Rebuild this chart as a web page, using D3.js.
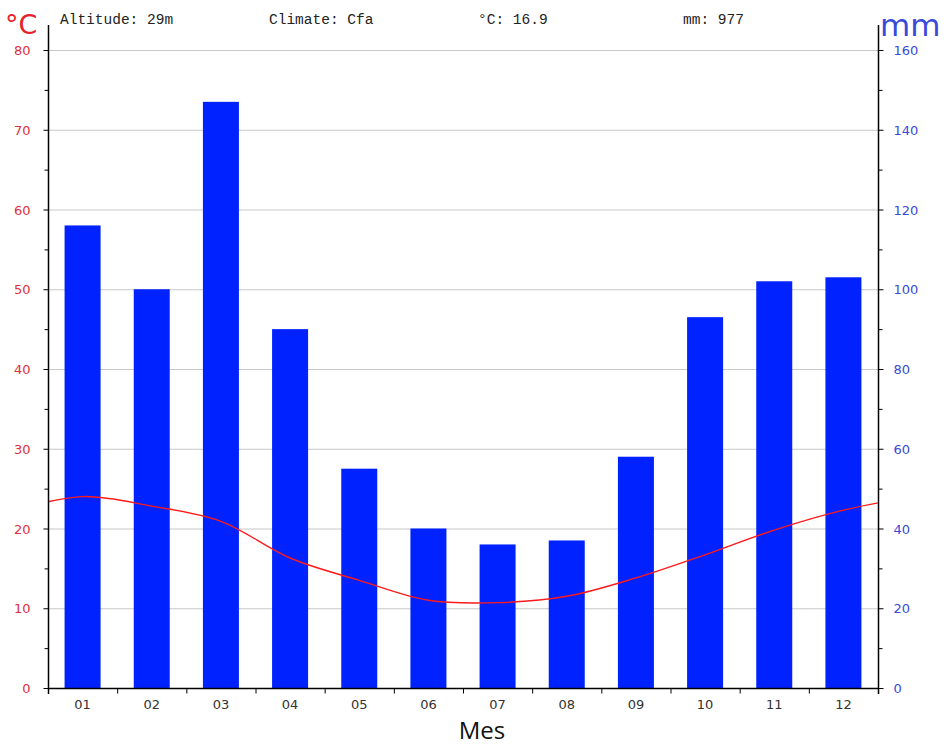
<!DOCTYPE html>
<html>
<head>
<meta charset="utf-8">
<script src="https://cdn.jsdelivr.net/npm/d3@7"></script>
<style>
  body { margin: 0; background: #fff; }
  svg { display: block; }
</style>
</head>
<body>
<svg id="chart" width="949" height="747"></svg>
<script>
// climate data
const months = ['01', '02', '03', '04', '05', '06', '07', '08', '09', '10', '11', '12'];
const precip = [116, 100, 147, 90, 55, 40, 36, 37, 58, 93, 102, 103];
const temp = [24.0, 22.8, 20.9, 16.3, 13.5, 11.0, 10.7, 11.5, 13.8, 16.7, 19.8, 22.3];
const tempTicks = [0, 10, 20, 30, 40, 50, 60, 70, 80];
const precipTicks = [0, 20, 40, 60, 80, 100, 120, 140, 160];
const header = ['Altitude: 29m', 'Climate: Cfa', '°C: 16.9', 'mm: 977'];

const margin = { top: 50, right: 71, bottom: 59, left: 48 };
const width = 949, height = 747;

const svg = d3.select('#chart');

const band = d3.scaleBand().domain(months).range([margin.left, width - margin.right]);
const bw = band.bandwidth();

const yT = d3.scaleLinear().domain([0, 80]).range([height - margin.bottom, margin.top]);
const yP = d3.scaleLinear().domain([0, 160]).range([height - margin.bottom, margin.top]);

// gridlines
svg.append('g')
  .selectAll('line')
  .data(tempTicks.filter(d => d > 0))
  .enter()
  .append('line')
  .attr('x1', margin.left)
  .attr('x2', width - margin.right)
  .attr('y1', d => yT(d) + 0.5)
  .attr('y2', d => yT(d) + 0.5)
  .attr('stroke', '#c8c8c8')
  .attr('stroke-width', 1);

// bars
svg.append('g')
  .selectAll('rect')
  .data(precip)
  .enter()
  .append('rect')
  .attr('x', (d, i) => band(months[i]) + bw / 2 - 18)
  .attr('width', 36)
  .attr('y', d => yP(d))
  .attr('height', d => yP(0) - yP(d))
  .attr('fill', '#0022ff');

// temperature line, wrapped around the year and clipped to the plot
svg.append('clipPath')
  .attr('id', 'clip')
  .append('rect')
  .attr('x', margin.left)
  .attr('y', margin.top)
  .attr('width', width - margin.left - margin.right)
  .attr('height', height - margin.top - margin.bottom);

const center = i => band(months[0]) + bw / 2 + i * bw;
const wrapped = [[-1, temp[11]]]
  .concat(temp.map((t, i) => [i, t]))
  .concat([[12, temp[0]]]);

svg.append('path')
  .datum(wrapped)
  .attr('clip-path', 'url(#clip)')
  .attr('d', d3.line()
    .x(d => center(d[0]))
    .y(d => yT(d[1]))
    .curve(d3.curveCatmullRom.alpha(0.5)))
  .attr('fill', 'none')
  .attr('stroke', '#ff1a1a')
  .attr('stroke-width', 1.4);

// left axis (°C)
const leftAxis = svg.append('g')
  .attr('transform', 'translate(' + (margin.left + 0.5) + ',0)');
leftAxis.append('line')
  .attr('y1', 25).attr('y2', yT(0) + 6)
  .attr('stroke', '#000').attr('stroke-width', 1.5);
leftAxis.selectAll('.major')
  .data(tempTicks)
  .enter()
  .append('line')
  .attr('x1', -5).attr('x2', 0)
  .attr('y1', d => yT(d) + 0.5).attr('y2', d => yT(d) + 0.5)
  .attr('stroke', '#000');
leftAxis.selectAll('.minor')
  .data(tempTicks.slice(0, -1).map(d => d + 5))
  .enter()
  .append('line')
  .attr('x1', -4).attr('x2', 0)
  .attr('y1', d => yT(d) + 0.5).attr('y2', d => yT(d) + 0.5)
  .attr('stroke', '#000');
leftAxis.selectAll('text')
  .data(tempTicks)
  .enter()
  .append('text')
  .attr('x', -18)
  .attr('y', d => yT(d) + 5)
  .attr('text-anchor', 'end')
  .attr('fill', '#e0303a')
  .style('font-family', 'DejaVu Sans, sans-serif')
  .style('font-size', '13px')
  .text(d => d);

// right axis (mm)
const rightAxis = svg.append('g')
  .attr('transform', 'translate(' + (width - margin.right + 0.5) + ',0)');
rightAxis.append('line')
  .attr('y1', 25).attr('y2', yP(0) + 6)
  .attr('stroke', '#000').attr('stroke-width', 1.5);
rightAxis.selectAll('.major')
  .data(precipTicks)
  .enter()
  .append('line')
  .attr('x1', 0).attr('x2', 5)
  .attr('y1', d => yP(d) + 0.5).attr('y2', d => yP(d) + 0.5)
  .attr('stroke', '#000');
rightAxis.selectAll('.minor')
  .data(precipTicks.slice(0, -1).map(d => d + 10))
  .enter()
  .append('line')
  .attr('x1', 0).attr('x2', 4)
  .attr('y1', d => yP(d) + 0.5).attr('y2', d => yP(d) + 0.5)
  .attr('stroke', '#000');
rightAxis.selectAll('text')
  .data(precipTicks)
  .enter()
  .append('text')
  .attr('x', 15)
  .attr('y', d => yP(d) + 5)
  .attr('text-anchor', 'start')
  .attr('fill', '#3a4ad8')
  .style('font-family', 'DejaVu Sans, sans-serif')
  .style('font-size', '13px')
  .text(d => d);

// bottom axis
const xAxis = svg.append('g')
  .attr('transform', 'translate(0,' + (yT(0) + 0.5) + ')');
xAxis.append('line')
  .attr('x1', margin.left).attr('x2', width - margin.right)
  .attr('stroke', '#000').attr('stroke-width', 1.5);
xAxis.selectAll('.tick')
  .data(months.concat(['end']))
  .enter()
  .append('line')
  .attr('x1', (d, i) => margin.left + i * bw + 0.5)
  .attr('x2', (d, i) => margin.left + i * bw + 0.5)
  .attr('y1', 0).attr('y2', 5)
  .attr('stroke', '#000');
xAxis.selectAll('text')
  .data(months)
  .enter()
  .append('text')
  .attr('x', d => band(d) + bw / 2)
  .attr('y', 20)
  .attr('text-anchor', 'middle')
  .attr('fill', '#333')
  .style('font-family', 'DejaVu Sans, sans-serif')
  .style('font-size', '13px')
  .text(d => d);

// axis titles
svg.append('text')
  .attr('x', 482).attr('y', 739)
  .attr('text-anchor', 'middle')
  .attr('fill', '#111')
  .style('font-family', 'Open Sans, sans-serif')
  .style('font-size', '24px')
  .text('Mes');

svg.append('text')
  .attr('x', 5).attr('y', 34)
  .attr('fill', '#e8202a')
  .style('font-family', 'DejaVu Sans, sans-serif')
  .style('font-size', '27px')
  .text('°C');

svg.append('text')
  .attr('x', 880).attr('y', 36)
  .attr('fill', '#3a4ad8')
  .style('font-family', 'DejaVu Sans, sans-serif')
  .style('font-size', '31px')
  .text('mm');

// header
const headerX = [60, 269, 478, 683];
svg.append('g')
  .selectAll('text')
  .data(header)
  .enter()
  .append('text')
  .attr('x', (d, i) => headerX[i])
  .attr('y', 24)
  .attr('fill', '#222')
  .style('font-family', 'Liberation Mono, monospace')
  .style('font-size', '14.5px')
  .text(d => d);
</script>
</body>
</html>
